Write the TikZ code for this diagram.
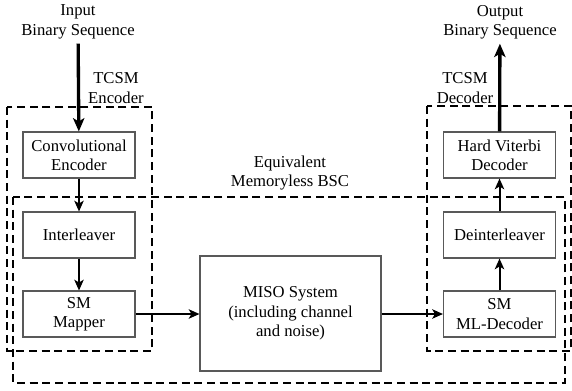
\documentclass[tikz,border=0pt]{standalone}
\usepackage{fontspec}
\setmainfont{Liberation Serif}
\usetikzlibrary{arrows.meta}

\tikzset{
  blockbox/.style={draw=black!65, line width=0.8pt, minimum width=84pt,
    minimum height=34.5pt, inner sep=1pt, align=center},
  region/.style={line width=1.9pt, dash pattern=on 6pt off 3.5pt},
  flow/.style={-{Stealth[length=8pt, width=7pt, inset=2pt]}, line width=1.5pt},
  io/.style={-{Stealth[length=10pt, width=8.5pt, inset=2.5pt]}, line width=2.5pt}
}

\begin{document}
\begin{tikzpicture}[x=0.75pt, y=-0.75pt,
  font=\fontsize{12.5}{14.5}\selectfont]
\useasboundingbox (0,0) rectangle (572,390);

\draw[region] (7,107) rectangle (152,351);
\draw[region] (427,106) rectangle (571,351);
\draw[region] (13,197) rectangle (565,383);

\node[blockbox] (conv) at (79,155) {Convolutional\\Encoder};
\node[blockbox] (inter) at (79,235) {Interleaver};
\node[blockbox] (mapper) at (79,314) {SM\\Mapper};
\node[blockbox, minimum width=135.75pt, minimum height=86.25pt] (miso)
  at (290.5,313.5) {MISO System\\(including channel\\and noise)};
\node[blockbox] (mldec) at (499.5,314) {SM\\ML-Decoder};
\node[blockbox] (deint) at (499.5,235) {Deinterleaver};
\node[blockbox] (viterbi) at (499.5,155) {Hard Viterbi\\Decoder};

\node[align=center] (in) at (78,22) {Input\\Binary Sequence};
\node[align=center] (out) at (500,22) {Output\\Binary Sequence};
\node[align=center] (enclabel) at (116,88) {TCSM\\Encoder};
\node[align=center] (declabel) at (465,88) {TCSM\\Decoder};
\node[align=center] (bsclabel) at (290,173) {Equivalent\\Memoryless BSC};

\draw[io] (in) -- (conv);
\draw[io] (viterbi) -- (out);

\draw[flow] (conv) -- (inter);
\draw[flow] (inter) -- (mapper);
\draw[flow] (mapper.east) -- (miso.west |- mapper.east);
\draw[flow] (miso.east |- mldec.west) -- (mldec.west);
\draw[flow] (mldec) -- (deint);
\draw[flow] (deint) -- (viterbi);
\end{tikzpicture}
\end{document}
